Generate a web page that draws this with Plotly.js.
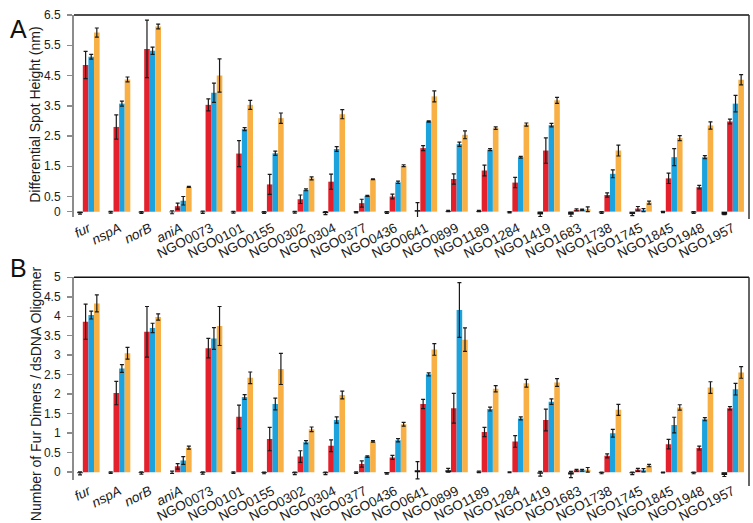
<!DOCTYPE html>
<html><head><meta charset="utf-8">
<script src="https://cdn.plot.ly/plotly-3.0.1.min.js"></script>
<style>html,body{margin:0;padding:0;background:#fff}#chart{width:753px;height:523px}</style>
</head><body><div id="chart"></div>
<script>
const categories = ["fur","nspA","norB","aniA","NGO0073","NGO0101","NGO0155","NGO0302","NGO0304","NGO0377","NGO0436","NGO0641","NGO0899","NGO1189","NGO1284","NGO1419","NGO1683","NGO1738","NGO1745","NGO1845","NGO1948","NGO1957"];
const tickLabels = ["<i>fur</i>","<i>nspA</i>","<i>norB</i>","<i>aniA</i>","NGO0073","NGO0101","NGO0155","NGO0302","NGO0304","NGO0377","NGO0436","NGO0641","NGO0899","NGO1189","NGO1284","NGO1419","NGO1683","NGO1738","NGO1745","NGO1845","NGO1948","NGO1957"];

// Panel A: differential spot height (nm)
const blackA = [-0.05,-0.02,-0.03,-0.02,-0.02,-0.02,-0.03,-0.02,-0.05,-0.02,-0.03,0.05,0.02,0.02,-0.02,-0.09,-0.1,-0.03,-0.08,-0.01,-0.03,-0.1];
const blackErrA = [0.03,0.03,0.03,0.05,0.04,0.03,0.03,0.03,0.05,0.02,0.03,0.25,0.02,0.02,0.02,0.07,0.08,0.03,0.05,0.02,0.03,0];
const redA = [4.85,2.8,5.38,0.18,3.53,1.92,0.9,0.41,0.99,0.28,0.5,2.1,1.08,1.36,0.96,2.02,0.06,0.55,0.1,1.1,0.81,2.98];
const redErrA = [0.45,0.4,0.95,0.1,0.2,0.43,0.33,0.14,0.25,0.13,0.08,0.08,0.17,0.18,0.17,0.42,0.03,0.07,0.07,0.17,0.06,0.08];
const blueA = [5.12,3.57,5.32,0.36,3.93,2.73,1.93,0.72,2.07,0.52,0.97,2.98,2.23,2.05,1.8,2.86,0.06,1.25,0.05,1.8,1.8,3.57];
const blueErrA = [0.08,0.08,0.12,0.14,0.32,0.05,0.07,0.03,0.08,0.02,0.04,0.02,0.07,0.03,0.03,0.06,0.02,0.13,0.05,0.28,0.05,0.27];
const orangeA = [5.92,4.37,6.12,0.82,4.5,3.53,3.09,1.1,3.22,1.07,1.52,3.81,2.54,2.76,2.88,3.68,0.08,2.02,0.3,2.43,2.85,4.36];
const orangeErrA = [0.15,0.08,0.08,0.02,0.55,0.15,0.17,0.05,0.15,0.01,0.03,0.18,0.13,0.04,0.05,0.1,0.08,0.18,0.05,0.08,0.12,0.17];

// Panel B: number of Fur dimers / dsDNA oligomer
const blackB = [-0.03,-0.01,-0.02,0.0,-0.02,-0.01,-0.02,-0.03,-0.03,-0.01,-0.03,0.05,0.05,0.01,0.0,-0.04,-0.06,-0.02,-0.03,-0.01,-0.02,-0.07];
const blackErrB = [0.04,0.02,0.03,0.03,0.03,0.02,0.02,0.03,0.03,0.02,0.02,0.22,0.05,0.02,0.01,0.06,0.08,0.02,0.03,0.01,0.02,0.04];
const redB = [3.86,2.03,3.6,0.15,3.18,1.42,0.85,0.4,0.68,0.21,0.38,1.75,1.64,1.03,0.79,1.34,0.05,0.42,0.06,0.72,0.62,1.64];
const redErrB = [0.45,0.3,0.65,0.07,0.25,0.3,0.3,0.15,0.15,0.08,0.05,0.12,0.38,0.12,0.15,0.28,0.02,0.05,0.04,0.12,0.05,0.04];
const blueB = [4.03,2.66,3.7,0.3,3.43,1.93,1.75,0.77,1.34,0.4,0.82,2.51,4.16,1.62,1.38,1.81,0.05,1.0,0.05,1.21,1.36,2.13];
const blueErrB = [0.1,0.1,0.12,0.1,0.28,0.06,0.15,0.04,0.08,0.02,0.04,0.04,0.7,0.05,0.04,0.07,0.02,0.1,0.04,0.2,0.04,0.15];
const orangeB = [4.33,3.05,3.98,0.63,3.75,2.42,2.65,1.1,1.98,0.79,1.23,3.15,3.4,2.14,2.28,2.3,0.06,1.6,0.17,1.66,2.17,2.56];
const orangeErrB = [0.22,0.15,0.08,0.04,0.5,0.15,0.4,0.06,0.1,0.02,0.05,0.15,0.3,0.08,0.1,0.1,0.06,0.14,0.03,0.07,0.15,0.15];

const ticksA = [0,0.5,1.5,2.5,3.5,4.5,5.5,6.5];
const ticksB = [0,0.5,1,1.5,2,2.5,3,3.5,4,4.5,5];

const colors = ["#111111","#E3202B","#1CA3DE","#F8B044"];

function mk(y, err, color, xa, ya) {
  return {type:"bar", x:categories, y:y, xaxis:xa, yaxis:ya,
    marker:{color:color, line:{width:0}},
    error_y:{type:"data", array:err, visible:true, color:"#1a1a1a", thickness:1.2, width:2},
    showlegend:false, hoverinfo:"skip"};
}
const data = [
  mk(blackA, blackErrA, colors[0], "x", "y"),
  mk(redA, redErrA, colors[1], "x", "y"),
  mk(blueA, blueErrA, colors[2], "x", "y"),
  mk(orangeA, orangeErrA, colors[3], "x", "y"),
  mk(blackB, blackErrB, colors[0], "x2", "y2"),
  mk(redB, redErrB, colors[1], "x2", "y2"),
  mk(blueB, blueErrB, colors[2], "x2", "y2"),
  mk(orangeB, orangeErrB, colors[3], "x2", "y2")
];

const font = {family:"Liberation Sans, Arial, sans-serif", color:"#1a1a1a"};
function xax(anchor){
  return {anchor:anchor, type:"category", range:[-0.47,21.53], showline:false, showgrid:false, zeroline:false,
    ticks:"", tickmode:"array", tickvals:categories, ticktext:tickLabels, tickangle:-27,
    tickfont:{family:font.family, size:13.5, color:"#1a1a1a"}, ticklabelstandoff:0, fixedrange:true};
}
function yax(anchor, range, ticks, domain){
  return {anchor:anchor, domain:domain, range:range, showline:true, linecolor:"#8c8c8c", linewidth:2,
    ticks:"outside", ticklen:5, tickwidth:1.5, tickcolor:"#8c8c8c", tickmode:"array", tickvals:ticks,
    ticktext:ticks.map(String), showgrid:false, zeroline:false, tickfont:{family:font.family, size:12, color:"#1a1a1a"},
    ticklabelstandoff:4, fixedrange:true};
}
const layout = {
  width:753, height:523, margin:{l:74, r:4, t:15, b:43},
  paper_bgcolor:"#fff", plot_bgcolor:"#fff", font:font,
  barmode:"group", bargap:0.27, bargroupgap:0,
  xaxis:xax("y"), yaxis:yax("x", [-0.18,6.5], ticksA, [0.5654,1]),
  xaxis2:xax("y2"), yaxis2:yax("x2", [-0.2,5.0], ticksB, [0,0.436]),
  shapes:[
    {type:"line", xref:"x domain", yref:"y domain", x0:0, x1:1, y0:1, y1:1, line:{color:"#111", width:1.5}},
    {type:"line", xref:"x domain", yref:"y domain", x0:1, x1:1, y0:1, y1:-0.01, line:{color:"#333", width:1.5}},
    {type:"line", xref:"x2 domain", yref:"y2 domain", x0:0, x1:1, y0:1, y1:1, line:{color:"#111", width:1.5}},
    {type:"line", xref:"x2 domain", yref:"y2 domain", x0:1, x1:1, y0:1, y1:-0.03, line:{color:"#333", width:1.5}}
  ],
  annotations:[
    {text:"A", xref:"paper", yref:"paper", x:-0.098, y:1.005, xanchor:"left", yanchor:"top", showarrow:false, font:{size:25, color:"#111", family:font.family}},
    {text:"B", xref:"paper", yref:"paper", x:-0.098, y:0.49, xanchor:"left", yanchor:"top", showarrow:false, font:{size:25, color:"#111", family:font.family}},
    {text:"Differential Spot Height (nm)", textangle:-90, xref:"paper", yref:"paper", x:-0.058, y:0.785, xanchor:"center", yanchor:"middle", showarrow:false, font:{size:14, color:"#1a1a1a", family:font.family}},
    {text:"Number of Fur Dimers / dsDNA Oligomer", textangle:-90, xref:"paper", yref:"paper", x:-0.056, y:0.185, xanchor:"center", yanchor:"middle", showarrow:false, font:{size:14, color:"#1a1a1a", family:font.family}}
  ]
};
Plotly.newPlot("chart", data, layout, {displayModeBar:false, staticPlot:true});
</script></body></html>
